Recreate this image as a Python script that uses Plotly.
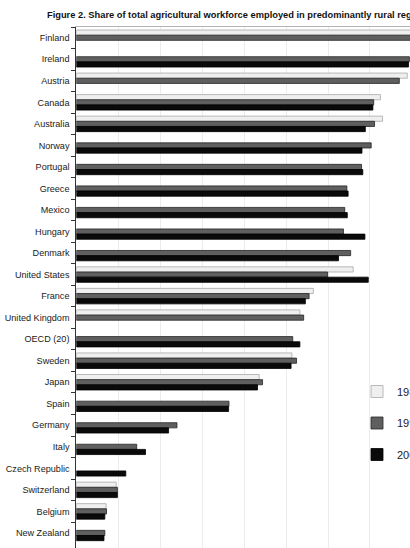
import plotly.graph_objects as go

countries = ["Finland", "Ireland", "Austria", "Canada", "Australia", "Norway",
             "Portugal", "Greece", "Mexico", "Hungary", "Denmark", "United States",
             "France", "United Kingdom", "OECD (20)", "Sweden", "Japan", "Spain",
             "Germany", "Italy", "Czech Republic", "Switzerland", "Belgium", "New Zealand"]

series_names = ["1980", "1990", "2000"]

vals_1980 = [85.0, None, 78.9, 72.5, 73.0, None,
             None, None, None, None, None, 66.0,
             56.5, 53.3, None, 51.4, 43.6, None,
             None, None, None, 9.5, 7.1, None]
vals_1990 = [84.0, 79.4, 77.0, 70.9, 71.1, 70.3,
             68.0, 64.5, 64.0, 63.7, 65.4, 59.9,
             55.5, 54.2, 51.6, 52.5, 44.4, 36.4,
             24.0, 14.4, None, 9.8, 7.2, 6.8]
vals_2000 = [None, 79.2, None, 70.7, 68.9, 68.1,
             68.3, 64.8, 64.6, 68.8, 62.5, 69.6,
             54.6, None, 53.3, 51.2, 43.2, 36.3,
             22.0, 16.5, 11.8, 9.8, 6.8, 6.6]

fills = ["#efefef", "#5f5f5f", "#0a0a0a"]
edges = ["#a8a8a8", "#262626", "#000000"]

# The original figure is wider than the 410 px window; the page is cropped on the right.
W, H = 480, 548
x0_px = 76.3
px_per_unit = 4.195
xmax = (W - x0_px) / px_per_unit

fig = go.Figure()
for name, vals, fc, ec in zip(series_names, [vals_1980, vals_1990, vals_2000], fills, edges):
    fig.add_trace(go.Bar(
        y=countries, x=vals, name=name, orientation="h",
        marker=dict(color=fc, line=dict(color=ec, width=0.8)),
        legendgroup=name,
    ))

font_fam = "Liberation Sans, Arial, sans-serif"
fig.update_layout(
    width=W, height=H,
    margin=dict(l=0, r=0, t=27, b=0, autoexpand=False),
    paper_bgcolor="white", plot_bgcolor="white",
    barmode="group", bargap=0.28, bargroupgap=0,
    font=dict(family=font_fam, color="#1a1a1a"),
    title=dict(text="<b>Figure 2. Share of total agricultural workforce employed in predominantly rural regions</b>",
               x=47 / W, xanchor="left", xref="container", y=1 - 15 / H, yanchor="middle",
               font=dict(size=9.3, family=font_fam, color="#111")),
    xaxis=dict(domain=[x0_px / W, 1], range=[0, xmax], side="top",
               showticklabels=False, ticks="", dtick=10, tick0=0,
               showgrid=True, gridcolor="#ececec", gridwidth=1,
               zeroline=False, showline=True, linecolor="#b5b5b5", linewidth=1),
    yaxis=dict(type="category", categoryorder="array", categoryarray=countries,
               range=[23.7, -0.5], ticks="outside", tickson="boundaries",
               ticklen=4, tickcolor="#333", showline=True, linecolor="#333",
               linewidth=1, showgrid=False, ticklabelstandoff=4,
               tickfont=dict(size=9.1, color="#1a1a1a")),
    legend=dict(x=357 / W, xanchor="left",
                y=1 - (377 - 27) / (H - 27), yanchor="top",
                font=dict(size=11, color="#1a1a1a"), bgcolor="rgba(0,0,0,0)",
                tracegroupgap=12.5, traceorder="grouped"),
)

fig.write_html("out.html",
               post_script="document.documentElement.style.overflow='hidden';document.body.style.overflow='hidden';")
